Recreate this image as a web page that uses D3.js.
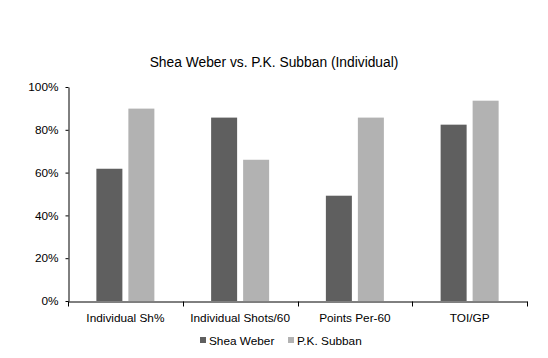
<!DOCTYPE html>
<html><head><meta charset="utf-8">
<script src="https://cdn.jsdelivr.net/npm/d3@7"></script>
<style>body{margin:0;background:#fff;} text{font-family:"Liberation Sans",Arial,sans-serif;}</style>
</head><body><svg id="c" width="548" height="358"></svg>
<script>
const categories = ["Individual Sh%", "Individual Shots/60", "Points Per-60", "TOI/GP"];
const seriesNames = ["Shea Weber", "P.K. Subban"];
const weber = [0.618, 0.857, 0.492, 0.824];
const subban = [0.899, 0.660, 0.857, 0.936];
const yTicks = [0, 0.2, 0.4, 0.6, 0.8, 1.0];
const colors = ["#5f5f5f", "#b2b2b2"];

(function () {
const svg = d3.select("#c");
const pLeft = 68, pRight = 527, pTop = 87, pBottom = 301;
const x = d3.scaleBand().domain(categories).range([pLeft, pRight]).paddingInner(0).paddingOuter(0);
const y = d3.scaleLinear().domain([0, 1]).range([pBottom, pTop]);
const seriesData = [weber, subban];

svg.append("text").attr("x", 274).attr("y", 67).attr("text-anchor", "middle")
  .attr("font-size", 13.8).attr("fill", "#000").text("Shea Weber vs. P.K. Subban (Individual)");

// bars
const barW = 26, gap = 6;
seriesData.forEach((vals, s) => {
  svg.append("g").selectAll("rect").data(categories).join("rect")
    .attr("x", (c) => x(c) + x.bandwidth() / 2 - (barW + gap / 2) + s * (barW + gap))
    .attr("width", barW)
    .attr("y", (c, i) => y(vals[i]))
    .attr("height", (c, i) => pBottom - y(vals[i]))
    .attr("fill", colors[s]);
});

// y axis
const yAxis = d3.axisLeft(y).tickValues(yTicks).tickFormat(d3.format(".0%")).tickSize(3).tickSizeOuter(0);
const gy = svg.append("g").attr("transform", `translate(${pLeft + 0.5},0)`).call(yAxis);
gy.selectAll("text").attr("font-size", 11.8).attr("fill", "#000").attr("font-family", "Liberation Sans, Arial, sans-serif").attr("x", -10);
gy.select(".domain").attr("stroke", "#000");
gy.selectAll(".tick line").attr("stroke", "#000");

// x axis
const xAxis = d3.axisBottom(x).tickSize(0).tickSizeOuter(0);
const gx = svg.append("g").attr("transform", `translate(0,${pBottom + 0.5})`).call(xAxis);
gx.select(".domain").attr("stroke", "#000");
gx.selectAll("text").attr("font-size", 11.8).attr("fill", "#000").attr("font-family", "Liberation Sans, Arial, sans-serif").attr("dy", "1.45em");
const bounds = categories.map(c => x(c)).concat([x(categories[categories.length - 1]) + x.bandwidth()]);
gx.selectAll(".sep").data(bounds).join("line").attr("class", "sep")
  .attr("x1", d => Math.round(d) + 0.5).attr("x2", d => Math.round(d) + 0.5)
  .attr("y1", 0).attr("y2", 5).attr("stroke", "#000");

// legend
const legX = [200, 288];
seriesNames.forEach((n, i) => {
  svg.append("rect").attr("x", legX[i]).attr("y", 337).attr("width", 6).attr("height", 6).attr("fill", colors[i]);
  svg.append("text").attr("x", legX[i] + 9).attr("y", 345).attr("font-size", 11.8).attr("fill", "#000").text(n);
});
})();
</script></body></html>
